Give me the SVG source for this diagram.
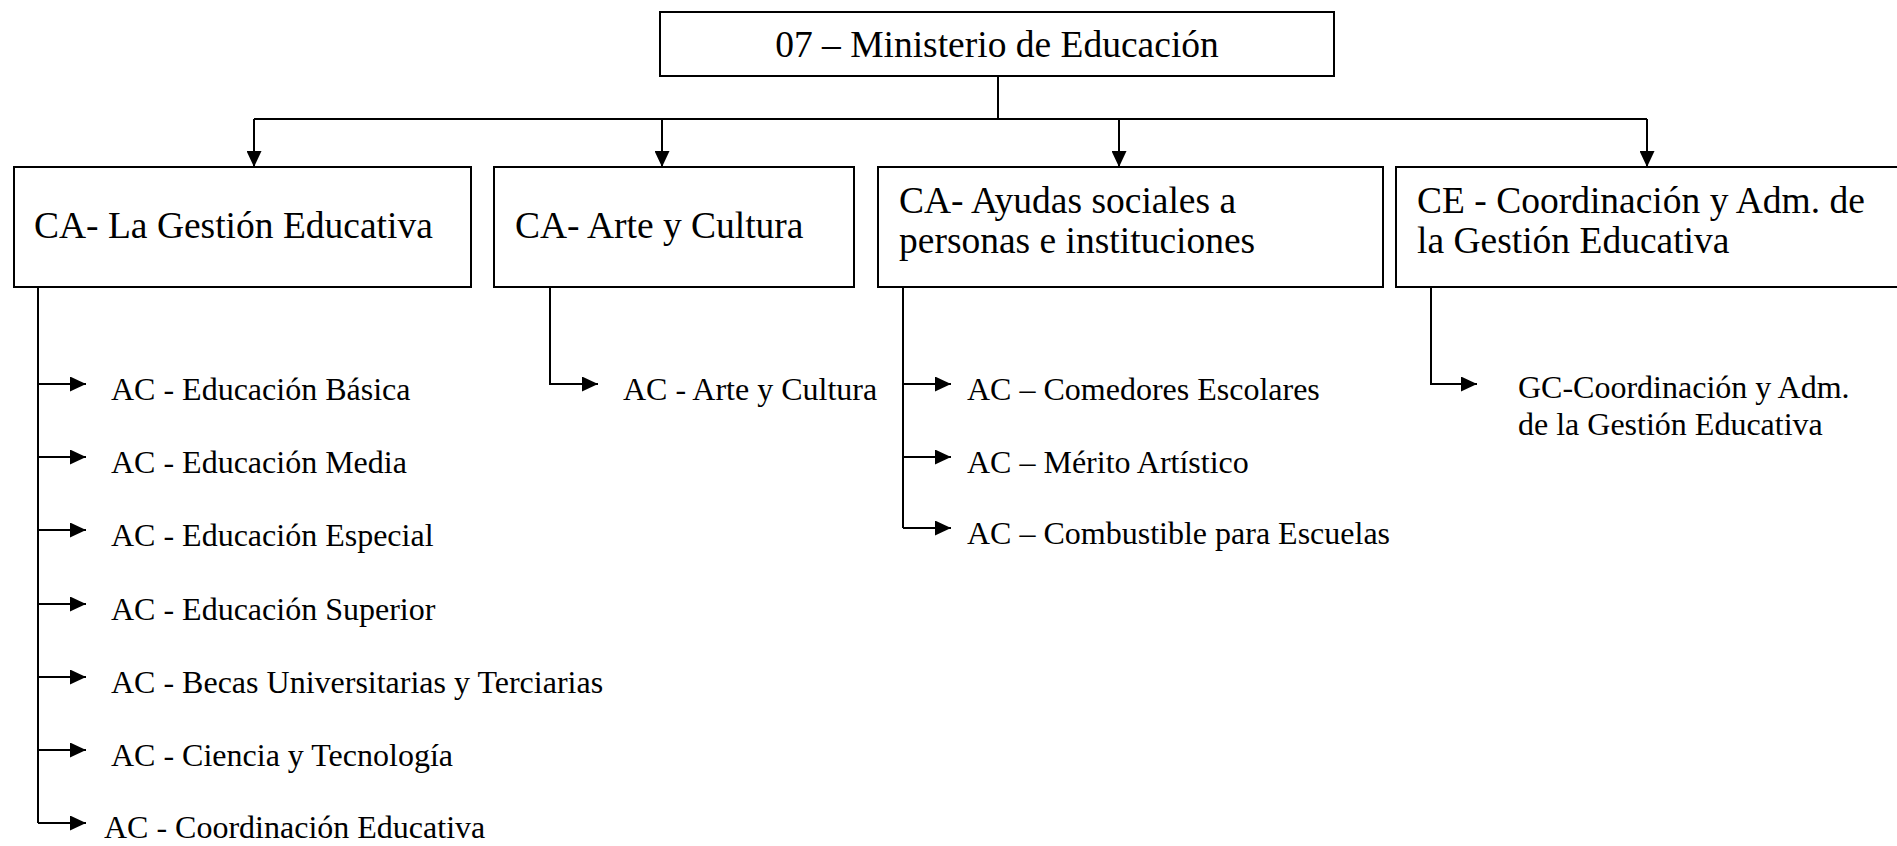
<svg xmlns="http://www.w3.org/2000/svg" width="1897" height="846" viewBox="0 0 1897 846">
<style>
.box{fill:#fff;stroke:#000;stroke-width:2}
.ln{fill:none;stroke:#000;stroke-width:2}
.t1{font-family:"Liberation Serif","Times New Roman",serif;font-size:37.5px;fill:#000}
.t2{font-family:"Liberation Serif","Times New Roman",serif;font-size:32px;fill:#000}
</style>
<defs>
<marker id="ah" markerUnits="userSpaceOnUse" markerWidth="16" markerHeight="15" refX="16" refY="7.5" orient="auto">
<path d="M0,0 L16,7.5 L0,15 Z" fill="#000"/>
</marker>
</defs>
<g id="connectors">
<path class="ln" d="M998,76 V119"/>
<path class="ln" d="M254,119 H1647"/>
<path class="ln" d="M254,119 V167" marker-end="url(#ah)"/>
<path class="ln" d="M662,119 V167" marker-end="url(#ah)"/>
<path class="ln" d="M1119,119 V167" marker-end="url(#ah)"/>
<path class="ln" d="M1647,119 V167" marker-end="url(#ah)"/>
<path class="ln" d="M38,288 V823"/>
<path class="ln" d="M38,384 H86" marker-end="url(#ah)"/>
<path class="ln" d="M38,457 H86" marker-end="url(#ah)"/>
<path class="ln" d="M38,530 H86" marker-end="url(#ah)"/>
<path class="ln" d="M38,604 H86" marker-end="url(#ah)"/>
<path class="ln" d="M38,677 H86" marker-end="url(#ah)"/>
<path class="ln" d="M38,750 H86" marker-end="url(#ah)"/>
<path class="ln" d="M38,823 H86" marker-end="url(#ah)"/>
<path class="ln" d="M550,288 V384 H598" marker-end="url(#ah)"/>
<path class="ln" d="M903,288 V528"/>
<path class="ln" d="M903,384 H951" marker-end="url(#ah)"/>
<path class="ln" d="M903,457 H951" marker-end="url(#ah)"/>
<path class="ln" d="M903,528 H951" marker-end="url(#ah)"/>
<path class="ln" d="M1431,288 V384 H1477" marker-end="url(#ah)"/>
</g>
<g id="n-root">
<rect class="box" x="660" y="12" width="674" height="64"/>
<text class="t1" x="997" y="57" text-anchor="middle">07 – Ministerio de Educación</text>
</g>
<g id="n-gestion">
<rect class="box" x="14" y="167" width="457" height="120"/>
<text class="t1" x="34" y="238">CA- La Gestión Educativa</text>
</g>
<g id="n-arte">
<rect class="box" x="494" y="167" width="360" height="120"/>
<text class="t1" x="515" y="238">CA- Arte y Cultura</text>
</g>
<g id="n-ayudas">
<rect class="box" x="878" y="167" width="505" height="120"/>
<text class="t1" x="899" y="213">CA- Ayudas sociales a</text>
<text class="t1" x="899" y="253">personas e instituciones</text>
</g>
<g id="n-coord">
<rect class="box" x="1396" y="167" width="520" height="120"/>
<text class="t1" x="1417" y="213">CE - Coordinación y Adm. de</text>
<text class="t1" x="1417" y="253">la Gestión Educativa</text>
</g>
<g id="c-gestion">
<text class="t2" x="111" y="400">AC - Educación Básica</text>
<text class="t2" x="111" y="473">AC - Educación Media</text>
<text class="t2" x="111" y="546">AC - Educación Especial</text>
<text class="t2" x="111" y="620">AC - Educación Superior</text>
<text class="t2" x="111" y="693">AC - Becas Universitarias y Terciarias</text>
<text class="t2" x="111" y="766">AC - Ciencia y Tecnología</text>
<text class="t2" x="104" y="838">AC - Coordinación Educativa</text>
</g>
<g id="c-arte">
<text class="t2" x="623" y="400">AC - Arte y Cultura</text>
</g>
<g id="c-ayudas">
<text class="t2" x="967" y="400">AC – Comedores Escolares</text>
<text class="t2" x="967" y="473">AC – Mérito Artístico</text>
<text class="t2" x="967" y="544">AC – Combustible para Escuelas</text>
</g>
<g id="c-coord">
<text class="t2" x="1518" y="398">GC-Coordinación y Adm.</text>
<text class="t2" x="1518" y="435">de la Gestión Educativa</text>
</g>
</svg>
